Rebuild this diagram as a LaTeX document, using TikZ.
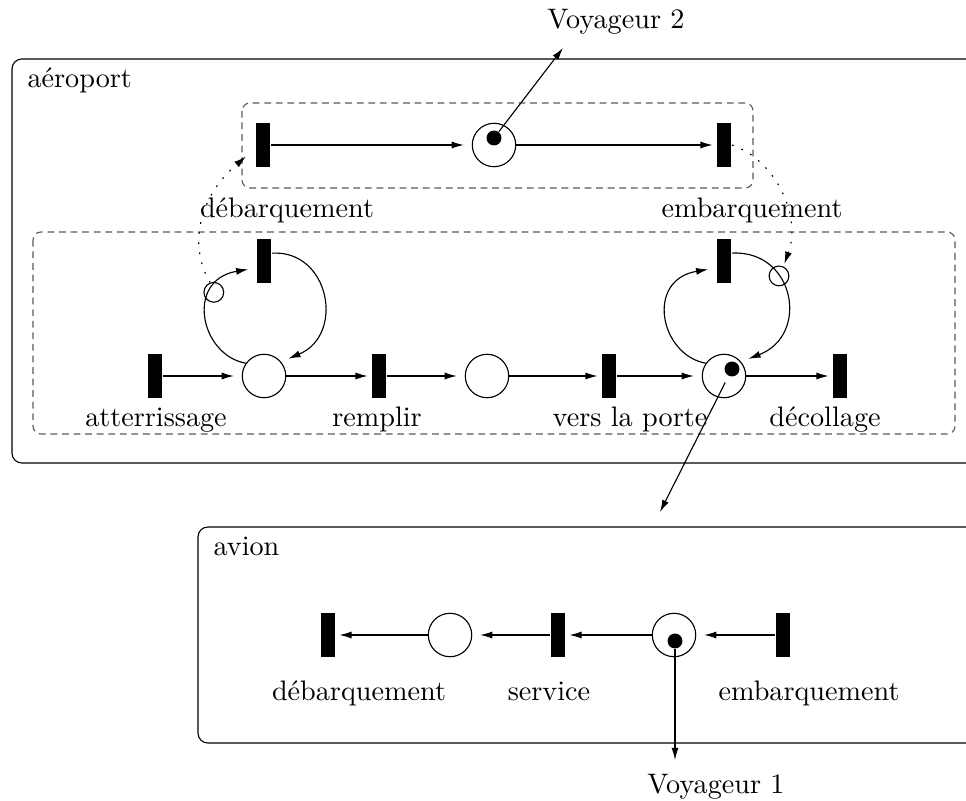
\documentclass[tikz,border=0pt]{standalone}
\usetikzlibrary{arrows.meta}
\begin{document}
\begin{tikzpicture}[x=0.3546pt,y=-0.3546pt,
  trans/.style={draw=none,fill=black,rectangle,inner sep=0pt,minimum width=5.3pt,minimum height=15.6pt},
  place/.style={draw,circle,inner sep=0pt,minimum size=15.4pt},
  token/.style={fill=black,circle,inner sep=0pt,minimum size=5.3pt},
  small/.style={draw,circle,inner sep=0pt,minimum size=7pt},
  lbl/.style={anchor=base,inner sep=0pt},
  arr/.style={-{Latex[length=4.3pt,width=2.5pt]}},
  toP/.style={arr,shorten >=2.8pt},
  toT/.style={arr,shorten >=1.2pt},
  dots/.style={dash pattern=on 0.6pt off 3pt},
  boxframe/.style={rounded corners=3.5pt},
  group/.style={draw=black!65,dash pattern=on 2.4pt off 1.7pt,rounded corners=2.8pt},
]
\useasboundingbox (0,0) rectangle (966,801);
\clip (0,0) rectangle (966,801);

% frames
\draw[boxframe] (12,59) rectangle (1010,463);
\draw[boxframe] (198,527) rectangle (1010,743);
\draw[group] (242,103) rectangle (753,188);
\draw[group] (33,232) rectangle (955,434);
\node[lbl,anchor=base west] (laero) at (27,88) {aéroport};
\node[lbl,anchor=base west] (lavion) at (213,555) {avion};

% top row
\node[trans] (t1) at (263,145) {};
\node[place] (pk) at (494,145) {};
\node[token] (k1) at (494,138) {};
\node[trans] (t2) at (724,145) {};
\draw[toP] (t1) -- (pk);
\draw[toT] (pk) -- (t2);
\node[lbl] (lt1) at (287,218) {débarquement};
\node[lbl] (lt2) at (752,218) {embarquement};

% main row
\node[trans] (ta) at (155,376) {};
\node[place] (p1) at (264,376) {};
\node[trans] (tr) at (379,376) {};
\node[place] (p2) at (487,376) {};
\node[trans] (tp) at (609,376) {};
\node[place] (p3) at (724,376) {};
\node[token] (k3) at (732,369) {};
\node[trans] (td) at (840,376) {};
\node[trans] (tl1) at (264,261) {};
\node[trans] (tl2) at (724,261) {};
\draw[toP] (ta) -- (p1);
\draw[toT] (p1) -- (tr);
\draw[toP] (tr) -- (p2);
\draw[toT] (p2) -- (tp);
\draw[toP] (tp) -- (p3);
\draw[toT] (p3) -- (td);
\node[lbl] (lta) at (156,426) {atterrissage};
\node[lbl] (ltr) at (377,426) {remplir};
\node[lbl] (ltp) at (630,426) {vers la porte};
\node[lbl] (ltd) at (825,426) {décollage};

% loops
\draw[toP] (p1.145) .. controls (200,355) and (185,280) .. ([yshift=-2.5pt]tl1.west) node[pos=0.7,small] (s1) {};
\draw[toP] ([yshift=2.8pt]tl1.east) .. controls (330,250) and (345,335) .. (p1.40);
\draw[toP] (p3.145) .. controls (660,355) and (645,280) .. ([yshift=-2.5pt]tl2.west);
\draw[toP] ([yshift=2.8pt]tl2.east) .. controls (795,250) and (810,335) .. (p3.40) node[pos=0.35,small] (s2) {};

% dotted links
\draw[arr,dots] (s1.110) .. controls (190,250) and (195,200) .. ([xshift=-3.2pt,yshift=3.9pt]t1.south west);
\draw[arr,dots,shorten >=1pt] (t2.east) .. controls (775,160) and (802,215) .. (s2.65);

% travellers
\node[lbl] (V2) at (616,29) {Voyageur 2};
\coordinate (v2) at (563,48);
\draw[arr] (k1) -- (v2);
\coordinate (av) at (660,512);
\draw[arr,shorten <=2.5pt] (k3) -- (av);

% avion row
\node[trans] (b1) at (328,635) {};
\node[place] (q1) at (450,635) {};
\node[trans] (b2) at (558,635) {};
\node[place] (q2) at (674,635) {};
\node[token] (k4) at (675,641) {};
\node[trans] (b3) at (783,635) {};
\draw[toP] (b3) -- (q2);
\draw[toT] (q2) -- (b2);
\draw[toP] (b2) -- (q1);
\draw[toT] (q1) -- (b1);
\node[lbl] (lb1) at (359,700) {débarquement};
\node[lbl] (lb2) at (549,700) {service};
\node[lbl] (lb3) at (809,700) {embarquement};

\coordinate (v1) at (675,760);
\draw[arr] (k4) -- (v1);
\node[lbl] (V1) at (716,793) {Voyageur 1};
\end{tikzpicture}
\end{document}
